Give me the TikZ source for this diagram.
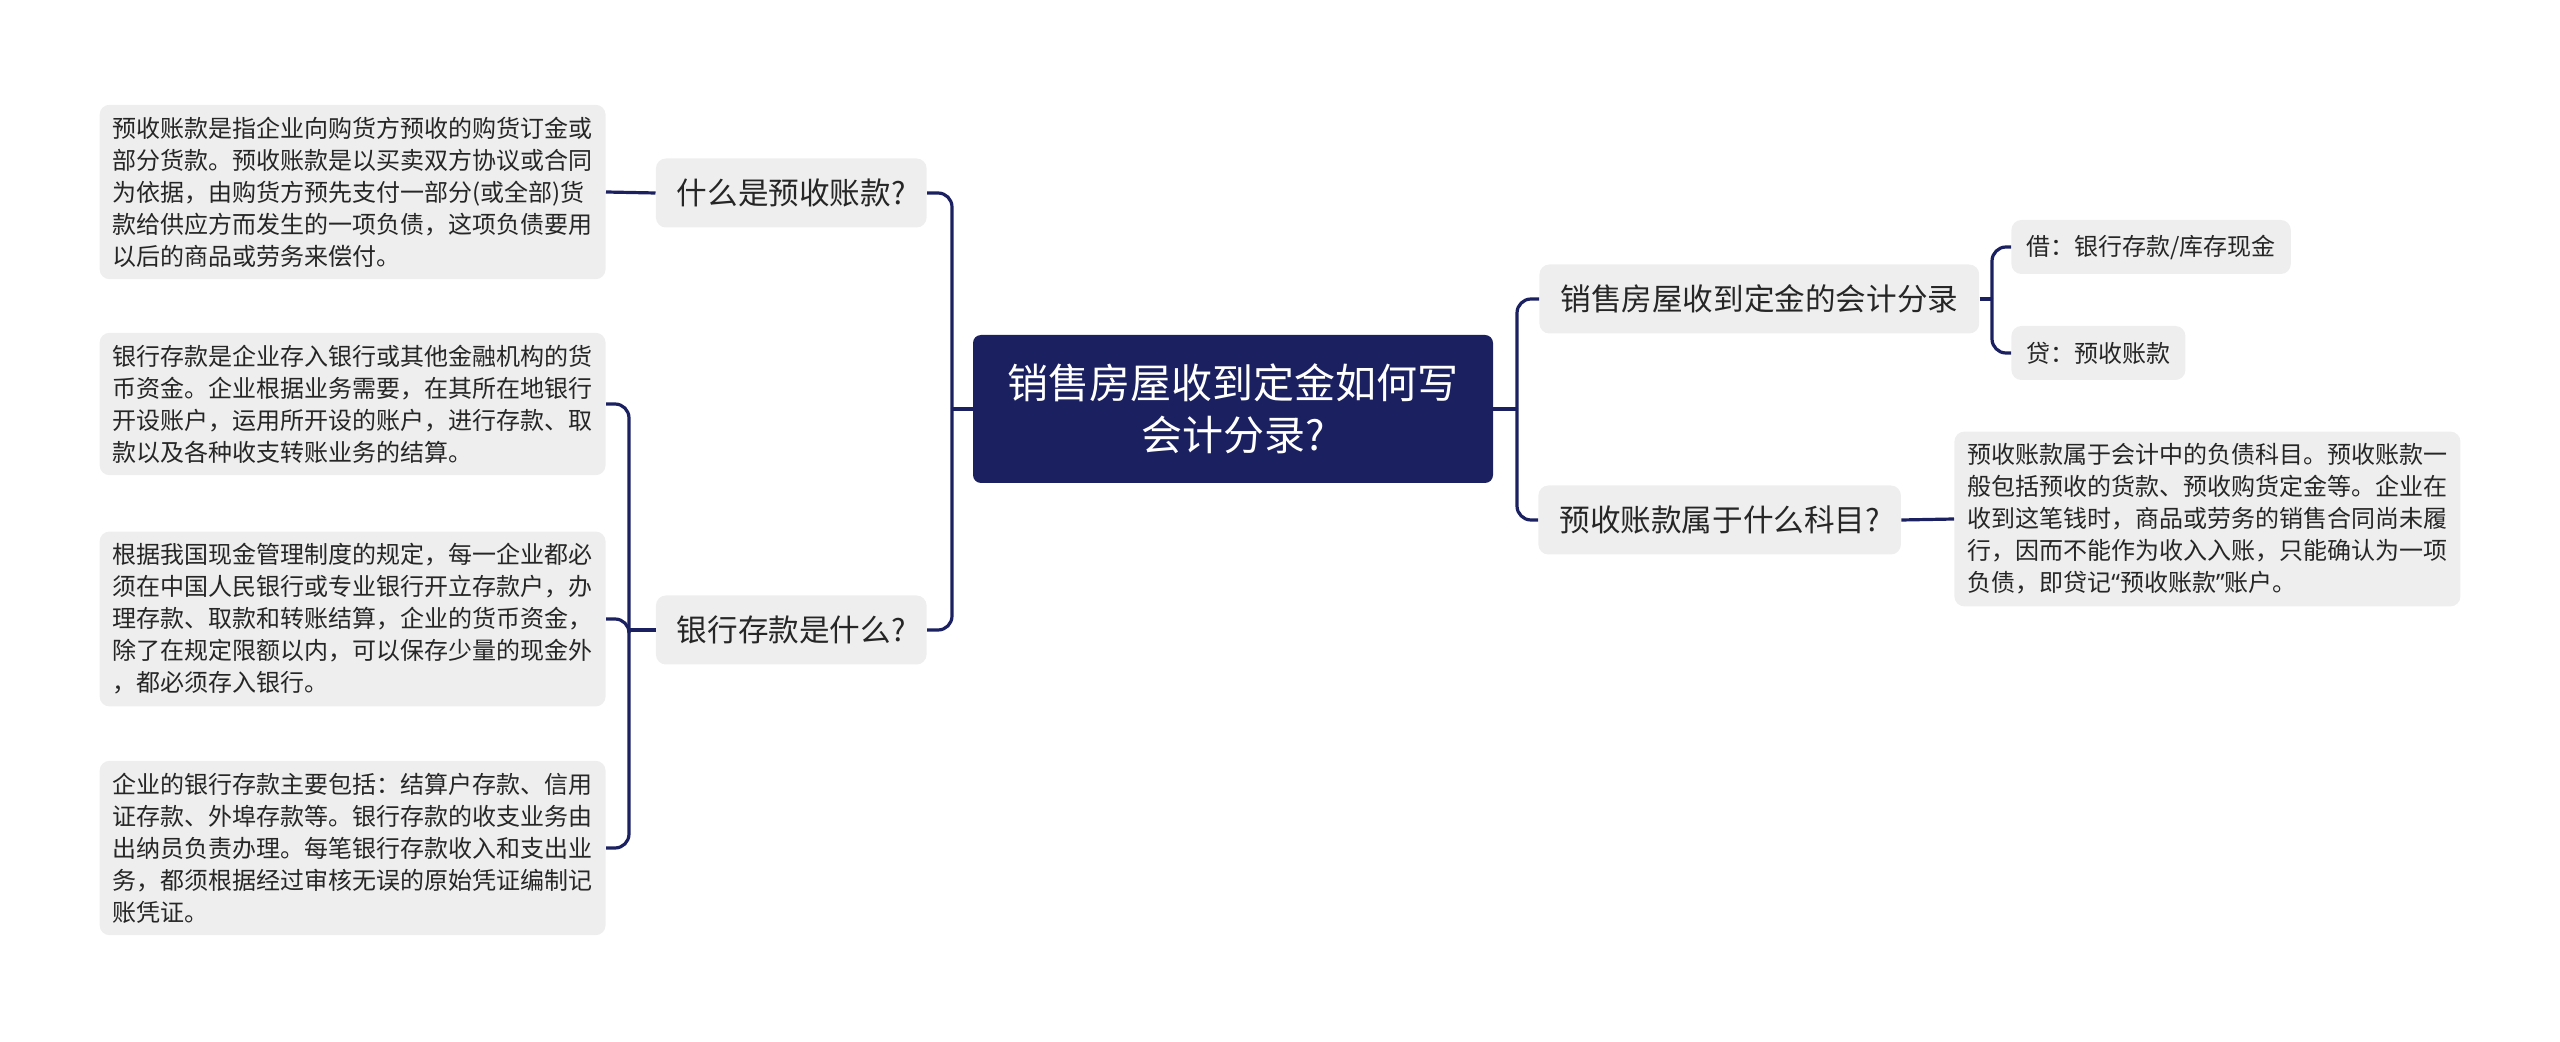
\documentclass[tikz,border=0pt]{standalone}
\usepackage{fontspec}
\setmainfont{Noto Sans CJK SC}
\newfontfamily\latinfont{Noto Sans}
\usepackage{tikz}
\usepackage{xcolor}
\definecolor{ColA}{RGB}{27,32,96}
\definecolor{ColB}{RGB}{238,238,238}
\definecolor{ColC}{RGB}{38,38,38}
\tikzstyle{NodeRoot}=[rectangle,rounded corners=4pt,fill=ColA,text=white,align=center,
minimum width=260pt,minimum height=74pt,font=\fontsize{20.5}{26}\selectfont]
\tikzstyle{NodeBranch}=[rectangle,rounded corners=5pt,fill=ColB,text=ColC,inner xsep=10.5pt,
minimum height=34.5pt,font=\fontsize{15.3}{18}\selectfont]
\tikzstyle{NodeLeaf}=[rectangle,rounded corners=5pt,fill=ColB,text=ColC,align=left,inner xsep=6.5pt,
inner ysep=6pt,font=\fontsize{12}{16}\selectfont]
\tikzstyle{NodeSmall}=[NodeLeaf,inner xsep=7.5pt,inner ysep=0pt,minimum height=27pt]
\tikzstyle{EdgeMap}=[ColA,line width=1.6pt,rounded corners=7pt]

\begin{document}
\begin{tikzpicture}[x=0.5pt,y=-0.5pt]
        \useasboundingbox(0,0)rectangle(2560,1042);
        \node[NodeRoot](root)at(1233,409){销售房屋收到定金如何写\\会计分录?};
        % left side
        \node[NodeBranch,anchor=east](l1)at(927,193){什么是预收账款?};
        \node[NodeBranch,anchor=east](l2)at(927,630){银行存款是什么?};
        \node[NodeLeaf,anchor=east](d1)at(606,192){预收账款是指企业向购货方预收的购货订金或\\部分货款。预收账款是以买卖双方协议或合同\\为依据，由购货方预先支付一部分(或全部)货\\款给供应方而发生的一项负债，这项负债要用\\以后的商品或劳务来偿付。};
        \node[NodeLeaf,anchor=east](d2)at(606,404){银行存款是企业存入银行或其他金融机构的货\\币资金。企业根据业务需要，在其所在地银行\\开设账户，运用所开设的账户，进行存款、取\\款以及各种收支转账业务的结算。};
        \node[NodeLeaf,anchor=east](d3)at(606,619){根据我国现金管理制度的规定，每一企业都必\\须在中国人民银行或专业银行开立存款户，办\\理存款、取款和转账结算，企业的货币资金，\\除了在规定限额以内，可以保存少量的现金外\\，都必须存入银行。};
        \node[NodeLeaf,anchor=east](d4)at(606,848){企业的银行存款主要包括：结算户存款、信用\\证存款、外埠存款等。银行存款的收支业务由\\出纳员负责办理。每笔银行存款收入和支出业\\务，都须根据经过审核无误的原始凭证编制记\\账凭证。};
        % right side
        \node[NodeBranch,anchor=west](r1)at(1539,299){销售房屋收到定金的会计分录};
        \node[NodeBranch,anchor=west](r2)at(1538,520){预收账款属于什么科目?};
        \node[NodeSmall,anchor=west](r1a)at(2011,247){借：银行存款/库存现金};
        \node[NodeSmall,anchor=west](r1b)at(2011,353){贷：预收账款};
        \node[NodeLeaf,anchor=west](r2a)at(1954,519){预收账款属于会计中的负债科目。预收账款一\\般包括预收的货款、预收购货定金等。企业在\\收到这笔钱时，商品或劳务的销售合同尚未履\\行，因而不能作为收入入账，只能确认为一项\\负债，即贷记{\latinfont “}预收账款{\latinfont ”}账户。};
        \coordinate(sl)at(952,409);
        \coordinate(sl2)at(629,630);
        \coordinate(sr)at(1517,409);
        \coordinate(sr1)at(1992,299);
        \draw[EdgeMap](root.west)--(sl);
        \draw[EdgeMap](sl)|-(l1.east);
        \draw[EdgeMap](sl)|-(l2.east);
        \draw[EdgeMap](l1.west)--(d1.east);
        \draw[EdgeMap](l2.west)--(sl2);
        \draw[EdgeMap](sl2)|-(d2.east);
        \draw[EdgeMap](sl2)|-(d3.east);
        \draw[EdgeMap](sl2)|-(d4.east);
        \draw[EdgeMap](root.east)--(sr);
        \draw[EdgeMap](sr)|-(r1.west);
        \draw[EdgeMap](sr)|-(r2.west);
        \draw[EdgeMap](r1.east)--(sr1);
        \draw[EdgeMap](sr1)|-(r1a.west);
        \draw[EdgeMap](sr1)|-(r1b.west);
        \draw[EdgeMap](r2.east)--(r2a.west);
    \end{tikzpicture}
\end{document}
